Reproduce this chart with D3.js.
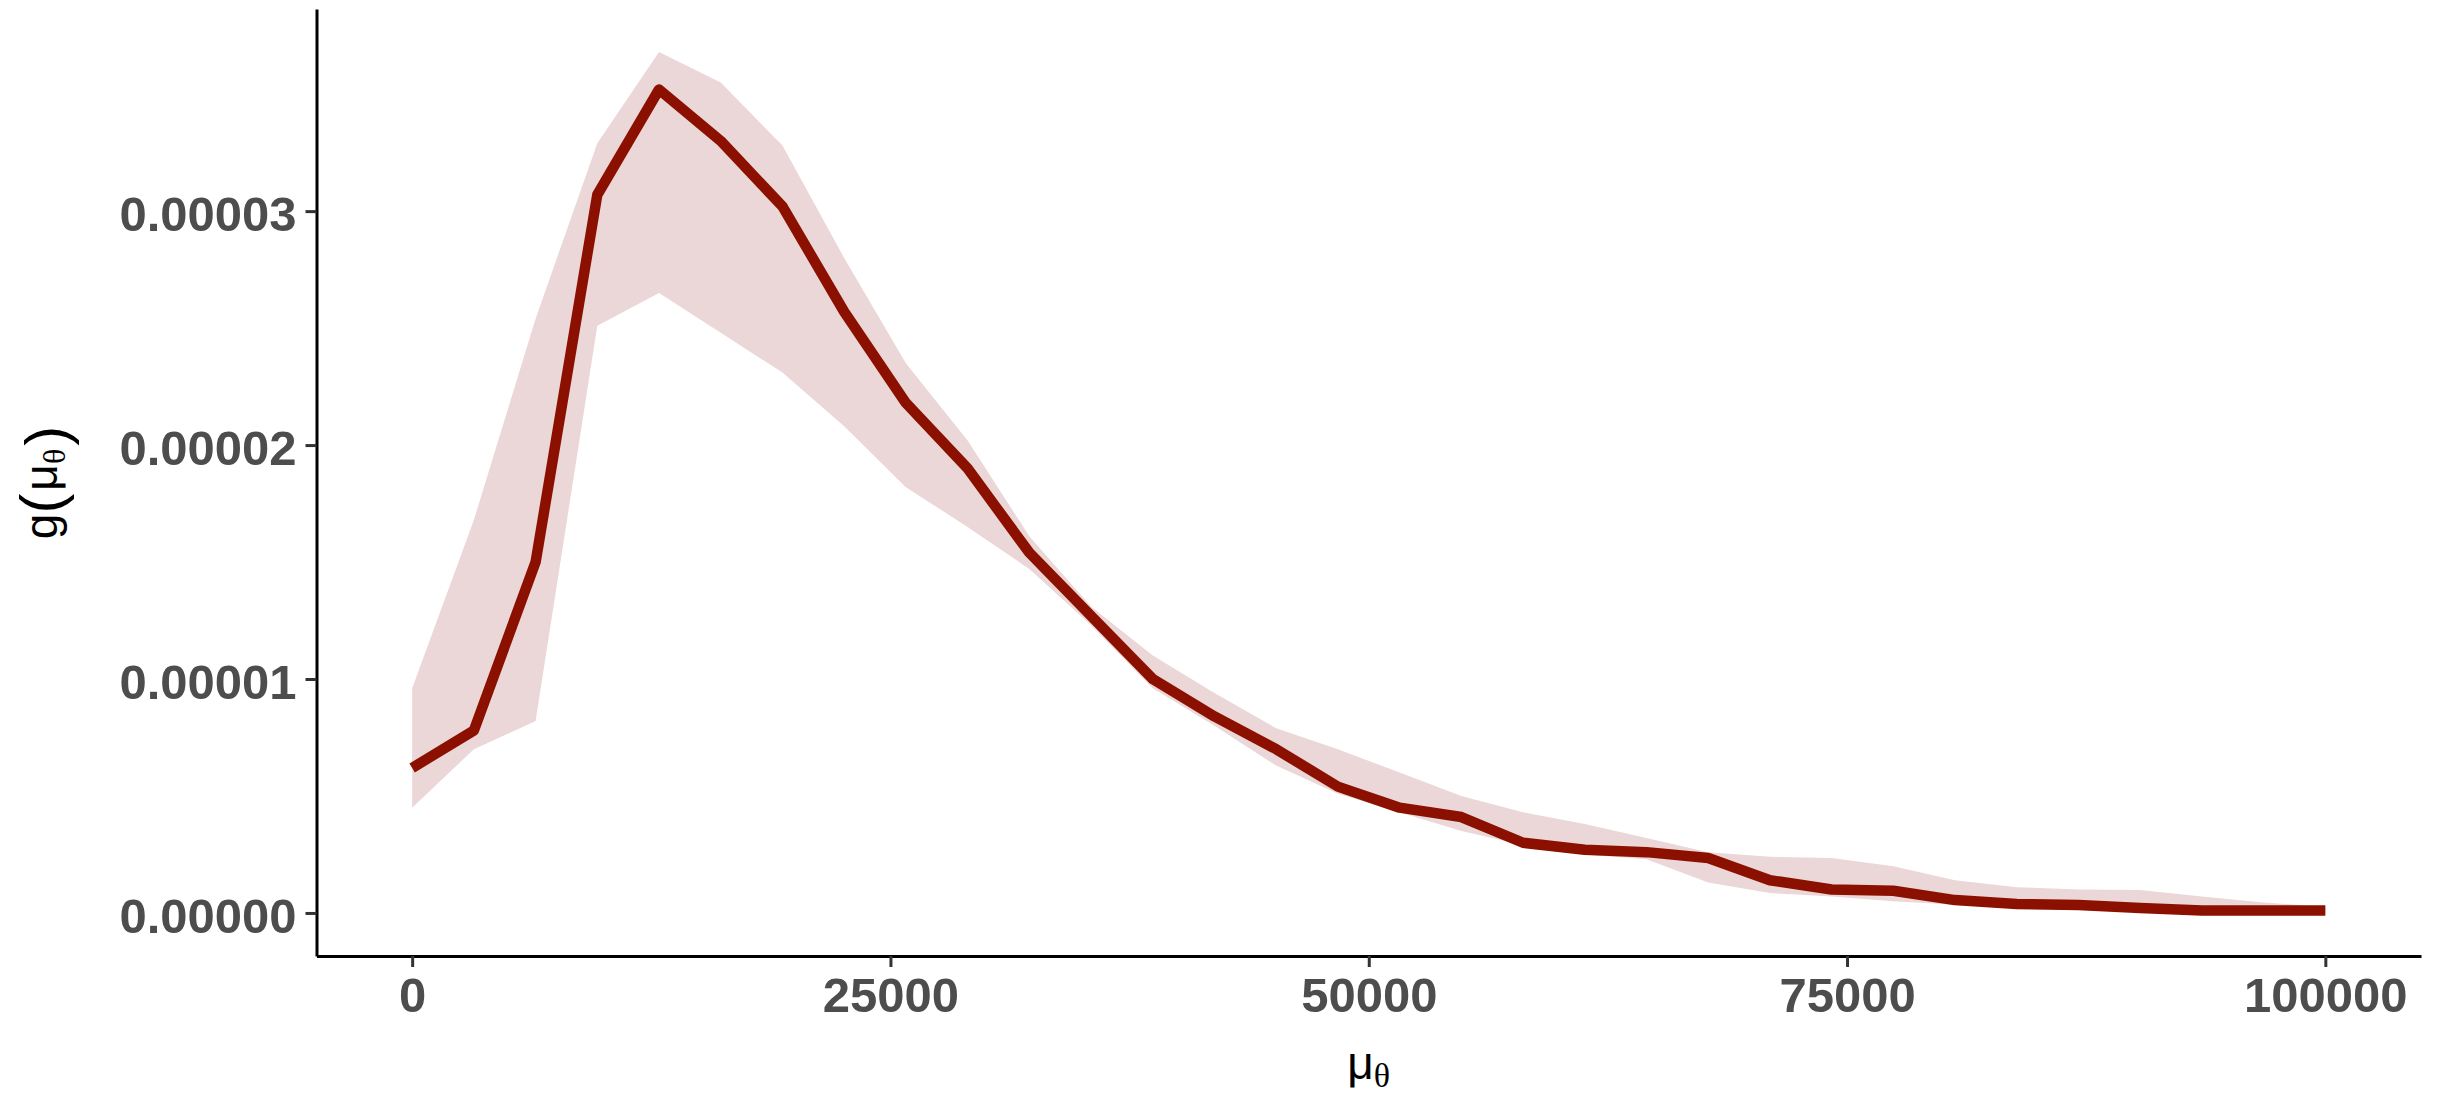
<!DOCTYPE html>
<html>
<head>
<meta charset="utf-8">
<script src="https://cdn.jsdelivr.net/npm/d3@7"></script>
<style>
  html, body { margin: 0; padding: 0; background: #ffffff; }
  svg { display: block; }
</style>
</head>
<body>
<svg id="chart" width="2438" height="1097"></svg>
<script>
// ---- data ----
const muTheta = [0, 3226, 6452, 9677, 12903, 16129, 19355, 22581, 25806, 29032,
  32258, 35484, 38710, 41935, 45161, 48387, 51613, 54839, 58065, 61290,
  64516, 67742, 70968, 74194, 77419, 80645, 83871, 87097, 90323, 93548,
  96774, 100000];

const gMean = [6.2e-6, 7.8e-6, 1.50e-5, 3.07e-5, 3.52e-5, 3.30e-5, 3.02e-5, 2.57e-5, 2.18e-5, 1.90e-5,
  1.54e-5, 1.27e-5, 1.00e-5, 8.4e-6, 7.0e-6, 5.4e-6, 4.5e-6, 4.1e-6, 3.0e-6, 2.7e-6,
  2.6e-6, 2.35e-6, 1.4e-6, 1.0e-6, 9.5e-7, 5.5e-7, 3.8e-7, 3.4e-7, 2.1e-7, 1.0e-7,
  1.0e-7, 1.0e-7];

const gUpper = [9.6e-6, 1.68e-5, 2.54e-5, 3.29e-5, 3.68e-5, 3.55e-5, 3.28e-5, 2.80e-5, 2.35e-5, 2.02e-5,
  1.61e-5, 1.31e-5, 1.10e-5, 9.4e-6, 7.9e-6, 7.0e-6, 6.0e-6, 5.0e-6, 4.3e-6, 3.8e-6,
  3.2e-6, 2.6e-6, 2.4e-6, 2.35e-6, 2.0e-6, 1.4e-6, 1.1e-6, 1.0e-6, 9.8e-7, 7.0e-7,
  4.5e-7, 2.5e-7];

const gLower = [4.5e-6, 7.0e-6, 8.2e-6, 2.51e-5, 2.65e-5, 2.48e-5, 2.31e-5, 2.08e-5, 1.82e-5, 1.65e-5,
  1.47e-5, 1.23e-5, 9.6e-6, 8.0e-6, 6.3e-6, 5.1e-6, 4.3e-6, 3.5e-6, 2.9e-6, 2.5e-6,
  2.3e-6, 1.3e-6, 8.5e-7, 7.0e-7, 5.0e-7, 3.5e-7, 2.5e-7, 2.0e-7, 1.5e-7, 1.0e-7,
  5.0e-8, 0.0];

const xTicks = [0, 25000, 50000, 75000, 100000];
const yTicks = [0, 0.00001, 0.00002, 0.00003];

// ---- layout ----
const svg = d3.select("#chart");
const pLeft = 316.5, pRight = 2421, pTop = 9, pBottom = 956;

const xMin = d3.min(muTheta), xMax = d3.max(muTheta);
const xPad = (xMax - xMin) * 0.05;
const x = d3.scaleLinear().domain([xMin - xPad, xMax + xPad]).range([pLeft, pRight]);

const yMin = d3.min(gLower), yMax = d3.max(gUpper);
const yPad = (yMax - yMin) * 0.05;
const y = d3.scaleLinear().domain([yMin - yPad, yMax + yPad]).range([pBottom, pTop]);

const rows = muTheta.map((m, i) => ({ m, mean: gMean[i], lo: gLower[i], hi: gUpper[i] }));

// ribbon
svg.append("path")
  .datum(rows)
  .attr("fill", "#EBD7D7")
  .attr("stroke", "none")
  .attr("d", d3.area().x(d => x(d.m)).y0(d => y(d.lo)).y1(d => y(d.hi)));

// mean line
svg.append("path")
  .datum(rows)
  .attr("fill", "none")
  .attr("stroke", "#8C1000")
  .attr("stroke-width", 10.5)
  .attr("stroke-linejoin", "round")
  .attr("stroke-linecap", "butt")
  .attr("d", d3.line().x(d => x(d.m)).y(d => y(d.mean)));

// axes
const fmtY = d3.format(".5f");
const fmtX = d3.format("d");

const gx = svg.append("g").attr("transform", `translate(0,${pBottom})`)
  .call(d3.axisBottom(x).tickValues(xTicks).tickFormat(fmtX).tickSizeInner(11).tickSizeOuter(0).tickPadding(10));
const gy = svg.append("g").attr("transform", `translate(${pLeft},0)`)
  .call(d3.axisLeft(y).tickValues(yTicks).tickFormat(fmtY).tickSizeInner(11).tickSizeOuter(0).tickPadding(9));

[gx, gy].forEach(g => {
  g.select(".domain").attr("stroke", "#000").attr("stroke-width", 3);
  g.selectAll(".tick line").attr("stroke", "#333333").attr("stroke-width", 3);
  g.selectAll(".tick text")
    .attr("fill", "#4D4D4D")
    .style("font-family", "'Liberation Sans', Arial, Helvetica, sans-serif")
    .style("font-weight", "bold")
    .style("font-size", "49px");
});
gx.selectAll(".tick text").attr("dy", "0.71em");
gy.selectAll(".tick text").attr("dy", "0.40em");

// x title
const xt = svg.append("text")
  .attr("x", (pLeft + pRight) / 2)
  .attr("y", 1079)
  .attr("text-anchor", "middle")
  .attr("fill", "#000")
  .style("font-family", "'Liberation Sans', Arial, sans-serif")
  .style("font-size", "46px");
xt.append("tspan").text("μ");
xt.append("tspan").attr("dy", 8).style("font-size", "34px")
  .style("font-family", "'Liberation Serif', serif").text("θ");

// y title
const yt = svg.append("text")
  .attr("transform", `translate(57,${(pTop + pBottom) / 2}) rotate(-90)`)
  .attr("text-anchor", "middle")
  .attr("fill", "#000")
  .style("font-family", "'Liberation Sans', Arial, sans-serif")
  .style("font-size", "46px");
yt.append("tspan").text("g");
yt.append("tspan").attr("dy", 5).style("font-size", "60px").text("(");
yt.append("tspan").attr("dy", -5).attr("dx", 3).text("μ");
yt.append("tspan").attr("dy", 8).style("font-size", "32px")
  .style("font-family", "'Liberation Serif', serif").text("θ");
yt.append("tspan").attr("dy", 2).attr("dx", 3).style("font-size", "60px").text(")");
</script>
</body>
</html>
